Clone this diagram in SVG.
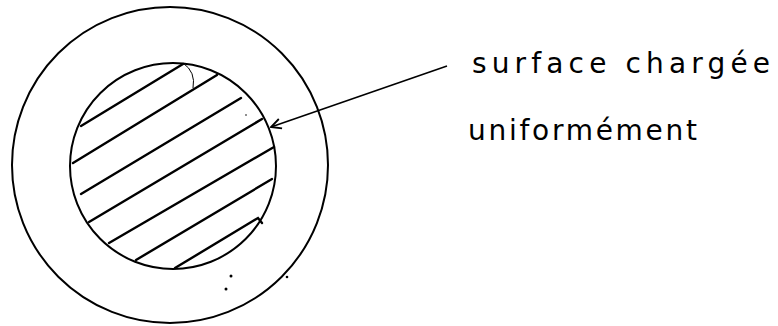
<svg xmlns="http://www.w3.org/2000/svg" width="778" height="326" viewBox="0 0 778 326">
<defs>
<style>
.c{fill:none;stroke:#000;stroke-width:2}
.h{fill:none;stroke:#000;stroke-width:2.4;stroke-linecap:round}
.t{font-family:"DejaVu Sans",sans-serif;font-size:28px;fill:#000}
</style>
<marker id="ah" viewBox="0 0 12 12" refX="11" refY="6" markerWidth="12" markerHeight="12" markerUnits="userSpaceOnUse" orient="auto">
<path d="M1 1 L11 6 L1 11" fill="none" stroke="#000" stroke-width="1.8"/>
</marker>
</defs>
<rect width="778" height="326" fill="#fff"/>
<g id="outer-circle"><circle class="c" cx="170" cy="165" r="158"/></g>
<g id="inner-surface">
<circle class="c" cx="173" cy="166" r="103" stroke-width="2.4"/>
<path class="h" d="M81 126 L183 64 M73 163 L217 75 M81 194 L241 98 M89 222 L262 119 M109 243 L274 147 M136 260 L272 179 M175 268 L258 218 L262 223"/>
<path d="M183 63 Q196 72 193 88" fill="none" stroke="#000" stroke-width="1"/>
<circle cx="246" cy="115" r="0.8" fill="#000"/>
</g>
<g id="marks">
<circle cx="231" cy="276" r="1.5" fill="#000"/>
<circle cx="226" cy="289" r="1.5" fill="#000"/>
<circle cx="287" cy="277" r="1.3" fill="#000"/>
</g>
<g id="connectors">
<line x1="447" y1="66" x2="271" y2="127" stroke="#000" stroke-width="1.6" marker-end="url(#ah)"/>
</g>
<g id="label">
<text class="t" x="472" y="73" textLength="298" lengthAdjust="spacing">surface chargée</text>
<text class="t" x="468" y="140" textLength="229" lengthAdjust="spacing">uniformément</text>
</g>
</svg>
